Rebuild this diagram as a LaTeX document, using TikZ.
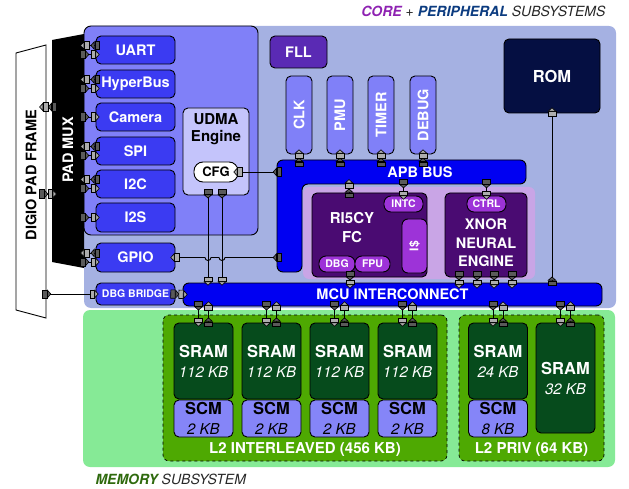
\documentclass[tikz,border=0pt]{standalone}
\usepackage{fontspec}
\setmainfont{TeX Gyre Heros}
\usetikzlibrary{arrows.meta}

\definecolor{corebg}{HTML}{A5B1E2}
\definecolor{peribg}{HTML}{8080F8}
\definecolor{periph}{HTML}{3B3BF2}
\definecolor{udmabg}{HTML}{C4C4FB}
\definecolor{busblue}{HTML}{0000F2}
\definecolor{fllc}{HTML}{5A2AB4}
\definecolor{clusterbg}{HTML}{C9A5E6}
\definecolor{fcc}{HTML}{4A0B72}
\definecolor{pillc}{HTML}{9D33D8}
\definecolor{romc}{HTML}{050F42}
\definecolor{membg}{HTML}{86EA96}
\definecolor{ltwoc}{HTML}{4EA902}
\definecolor{sramc}{HTML}{064B1C}
\definecolor{scmc}{HTML}{8585F8}
\definecolor{coretxt}{HTML}{8E22B2}
\definecolor{pertxt}{HTML}{0C3C80}
\definecolor{memtxt}{HTML}{2F6A0E}
\definecolor{txtgray}{HTML}{262626}
\definecolor{portdark}{HTML}{5A5A5A}
\definecolor{portlight}{HTML}{ADADAD}

\newcommand{\kbfont}{\fontsize{15}{19}\selectfont\mdseries\itshape}

\tikzset{
  box/.style={draw=black, line width=0.9pt, rounded corners=5pt, inner sep=0pt,
    align=center, text=white, font=\bfseries\fontsize{14.5}{17}\selectfont},
  periph/.style={box, fill=periph, minimum width=79pt, minimum height=28pt},
  apbdev/.style={box, fill=peribg, minimum width=26pt, minimum height=78pt},
  pill/.style={box, fill=pillc, rounded corners=7pt, minimum height=16pt,
    font=\bfseries\fontsize{10.5}{12}\selectfont},
  sram/.style={box, fill=sramc, minimum width=59pt, font=\bfseries\fontsize{16.5}{20}\selectfont},
  scm/.style={sram, fill=scmc, text=black, minimum height=37pt},
  ltwo/.style={box, fill=ltwoc, dashed, line width=0.7pt, rounded corners=6pt},
  lbl/.style={inner sep=0pt, align=center, text=white, font=\bfseries\fontsize{14.5}{18.5}\selectfont},
  port/.style={draw=black, line width=0.9pt,
    {Rectangle[length=5pt,width=9pt,fill=portdark,line width=0.6pt]Triangle[reversed,length=4pt,width=9pt,fill=portdark,line width=0.6pt]}-{Rectangle[length=5pt,width=9pt,fill=portlight,line width=0.6pt]Triangle[length=4pt,width=9pt,fill=portlight,line width=0.6pt]}},
}

\begin{document}
\begin{tikzpicture}[x=1pt, y=-1pt]
\useasboundingbox (0,0) rectangle (629,489);

% subsystem backgrounds
\fill[corebg, rounded corners=7pt] (84,26) rectangle (616,308);
\fill[membg, rounded corners=7pt] (83,310) rectangle (615,467);
\draw[fill=peribg, line width=0.9pt, rounded corners=7pt] (84,26) rectangle (258,235);
\fill[clusterbg, rounded corners=6pt] (303,187) rectangle (535,279);

% titles
\node[anchor=east, text=txtgray, font=\fontsize{14}{16}\selectfont] (coretitle) at (609,11)
  {\textcolor{coretxt}{\bfseries\itshape CORE} + \textcolor{pertxt}{\bfseries\itshape PERIPHERAL} \itshape SUBSYSTEMS};
\node[anchor=west, text=txtgray, font=\fontsize{14}{16}\selectfont] (memtitle) at (92,479)
  {\textcolor{memtxt}{\bfseries\itshape MEMORY} \itshape SUBSYSTEM};

% pad frame and pad mux
\draw[fill=white, line width=0.9pt] (16,53) -- (46,45) -- (46,318) -- (16,310) -- cycle;
\fill[black] (52,40) -- (84,34) -- (84,268) -- (52,262) -- cycle;
\node[lbl, text=black, minimum width=30pt, minimum height=260pt] (frame) at (31,175) {\rotatebox{90}{DIGIO PAD FRAME}};
\node[lbl, minimum width=32pt, minimum height=220pt] (padmux) at (68,150) {\rotatebox{90}{PAD MUX}};

% peripherals
\node[periph] (uart) at (135.5,50) {UART};
\node[periph] (hyper) at (135.5,84) {HyperBus};
\node[periph] (camera) at (135.5,117) {Camera};
\node[periph] (spi) at (135.5,151) {SPI};
\node[periph] (itwoc) at (135.5,184) {I2C};
\node[periph, minimum height=29pt] (itwos) at (135.5,217.5) {I2S};
\node[periph, minimum height=29pt] (gpio) at (135.5,257.5) {GPIO};
\node[periph, minimum height=22pt, font=\bfseries\fontsize{10.5}{12}\selectfont] (dbgbr) at (135.5,294) {DBG BRIDGE};

% udma
\node[box, fill=udmabg, minimum width=66pt, minimum height=87pt] (udma) at (216,151.5) {};
\node[lbl, text=black, font=\bfseries\fontsize{15}{17}\selectfont] (udmalbl) at (216,129.5) {UDMA\\Engine};
\node[box, fill=white, text=black, rounded corners=9pt, minimum width=44pt, minimum height=20pt,
  font=\bfseries\fontsize{13}{15}\selectfont] (cfg) at (216,172) {CFG};

% apb side
\node[box, fill=fllc, minimum width=57pt, minimum height=32pt] (fll) at (298.5,52) {FLL};
\node[apbdev] (clk) at (299,115) {\rotatebox{90}{CLK}};
\node[apbdev] (pmu) at (340,115) {\rotatebox{90}{PMU}};
\node[apbdev] (timer) at (381,115) {\rotatebox{90}{TIMER}};
\node[apbdev] (debug) at (423,115) {\rotatebox{90}{DEBUG}};
\node[box, fill=romc, minimum width=96pt, minimum height=74pt, font=\bfseries\fontsize{16.5}{19}\selectfont] (rom) at (552,76) {ROM};

\draw[fill=busblue, line width=0.9pt, rounded corners=6pt]
  (277,160) -- (526,160) -- (526,184) -- (302,184) -- (302,272) -- (277,272) -- cycle;
\node[lbl, minimum width=212pt, minimum height=24pt] (apb) at (420,172) {APB BUS};
\node[inner sep=0pt, minimum width=25pt, minimum height=112pt] (apbleg) at (289.5,216) {};

% fabric controller and xnor engine
\node[box, fill=fcc, minimum width=115pt, minimum height=84pt] (fc) at (369.5,235) {};
\node[lbl, font=\bfseries\fontsize{15}{19}\selectfont] (fclbl) at (352,228) {RI5CY\\FC};
\node[pill, minimum width=39pt] (intc) at (403.5,204) {INTC};
\node[pill, minimum width=25pt, minimum height=54pt, rounded corners=6pt, font=\bfseries\fontsize{12}{14}\selectfont] (icache) at (414.5,246) {\rotatebox{90}{I\$}};
\node[pill, minimum width=36pt] (fcdbg) at (337,264) {DBG};
\node[pill, minimum width=35pt] (fpu) at (372.5,264) {FPU};
\node[box, fill=fcc, minimum width=82pt, minimum height=84pt] (xnor) at (486,235) {};
\node[pill, minimum width=39pt] (ctrl) at (486.5,204) {CTRL};
\node[lbl] (xnorlbl) at (486,243) {XNOR\\NEURAL\\ENGINE};

% interconnect
\node[box, fill=busblue, rounded corners=6pt, minimum width=419pt, minimum height=23pt] (mcu) at (392.5,294.5) {MCU INTERCONNECT};

% memory
\node[ltwo, minimum width=284pt, minimum height=146pt] (ltwoint) at (305,388) {};
\node[ltwo, minimum width=145pt, minimum height=146pt] (ltwopriv) at (531.5,388) {};
\node[lbl, font=\bfseries\fontsize{15}{17}\selectfont] (intlbl) at (305,450) {L2 INTERLEAVED (456 KB)};
\node[lbl, font=\bfseries\fontsize{15}{17}\selectfont] (privlbl) at (531.5,450) {L2 PRIV (64 KB)};
\foreach \i/\cx in {1/203.5,2/271.5,3/339.5,4/407.5} {
  \node[sram, minimum height=76pt] (sram\i) at (\cx,361) {SRAM\\{\kbfont 112 KB}};
  \node[scm] (scm\i) at (\cx,418.5) {SCM\\{\kbfont 2 KB}};
}
\node[sram, minimum height=76pt] (sram5) at (498,361) {SRAM\\{\kbfont 24 KB}};
\node[scm] (scm5) at (498,418.5) {SCM\\{\kbfont 8 KB}};
\node[sram, minimum height=110pt] (sram6) at (565.5,378) {SRAM\\{\kbfont 32 KB}};

% pad mux <-> peripherals
\foreach \p in {uart,hyper,spi,itwoc,gpio} {
  \draw[port] ([xshift=4pt,yshift=4.5pt]\p.west) -- ([xshift=-4pt,yshift=4.5pt]\p.west -| padmux.east);
  \draw[port] ([xshift=-4pt,yshift=-4.5pt]\p.west -| padmux.east) -- ([xshift=4pt,yshift=-4.5pt]\p.west);
}
\foreach \p in {camera,itwos}
  \draw[port] ([xshift=-4pt]\p.west -| padmux.east) -- ([xshift=4pt]\p.west);

% pad frame
\draw[port] ([xshift=5pt]padmux.west |- 0,107) -- ([xshift=-7pt]frame.east |- 0,107);
\draw[port] ([xshift=-7pt]frame.east |- 0,194) -- ([xshift=5pt]padmux.west |- 0,194);
\draw[port] ([xshift=-4pt]frame.east |- dbgbr.west) -- ([xshift=3pt]dbgbr.west);
\draw[port] ([xshift=-5pt]dbgbr.east) -- ([xshift=5pt]mcu.west);

% apb links
\draw[port] ([xshift=5pt]apbleg.west |- cfg.east) -- ([xshift=-5pt]cfg.east);
\draw[port] ([xshift=5pt]apbleg.west |- gpio.east) -- (225,257.5) arc[start angle=0,end angle=180,radius=3]
  -- (211,257.5) arc[start angle=0,end angle=180,radius=3] -- ([xshift=-5pt]gpio.east);
\foreach \d in {clk,pmu,timer,debug}
  \draw[port] ([yshift=-7pt]\d.south |- apb.north) -- ([yshift=5pt]\d.south);
\draw[port] ([yshift=-5pt]fc.north -| 349,0) -- ([yshift=5pt]349,0 |- apb.south);
\draw[port] ([yshift=5pt]intc.north |- apb.south) -- ([yshift=-4pt]intc.north);
\draw[port] ([yshift=5pt]ctrl.north |- apb.south) -- ([yshift=-4pt]ctrl.north);

% into the interconnect
\foreach \x in {208,222}
  \draw[port] ([yshift=6pt]\x,0 |- udma.south) -- ([yshift=-3pt]\x,0 |- mcu.north);
\draw[port] ([yshift=6pt]350,0 |- fc.south) -- ([yshift=-6pt]350,0 |- mcu.north);
\foreach \x in {459,477,494,512}
  \draw[port] ([yshift=6pt]\x,0 |- xnor.south) -- ([yshift=-6pt]\x,0 |- mcu.north);
\draw[port] ([yshift=-3pt]rom.south |- mcu.north) -- ([yshift=6pt]rom.south);

% interconnect <-> memory banks
\foreach \i in {1,...,6} {
  \draw[port] ([xshift=-5pt,yshift=5pt]mcu.south -| sram\i.north) -- ([xshift=-5pt,yshift=-4pt]sram\i.north);
  \draw[port] ([xshift=5pt,yshift=-4pt]sram\i.north) -- ([xshift=5pt,yshift=5pt]mcu.south -| sram\i.north);
}
\end{tikzpicture}
\end{document}
